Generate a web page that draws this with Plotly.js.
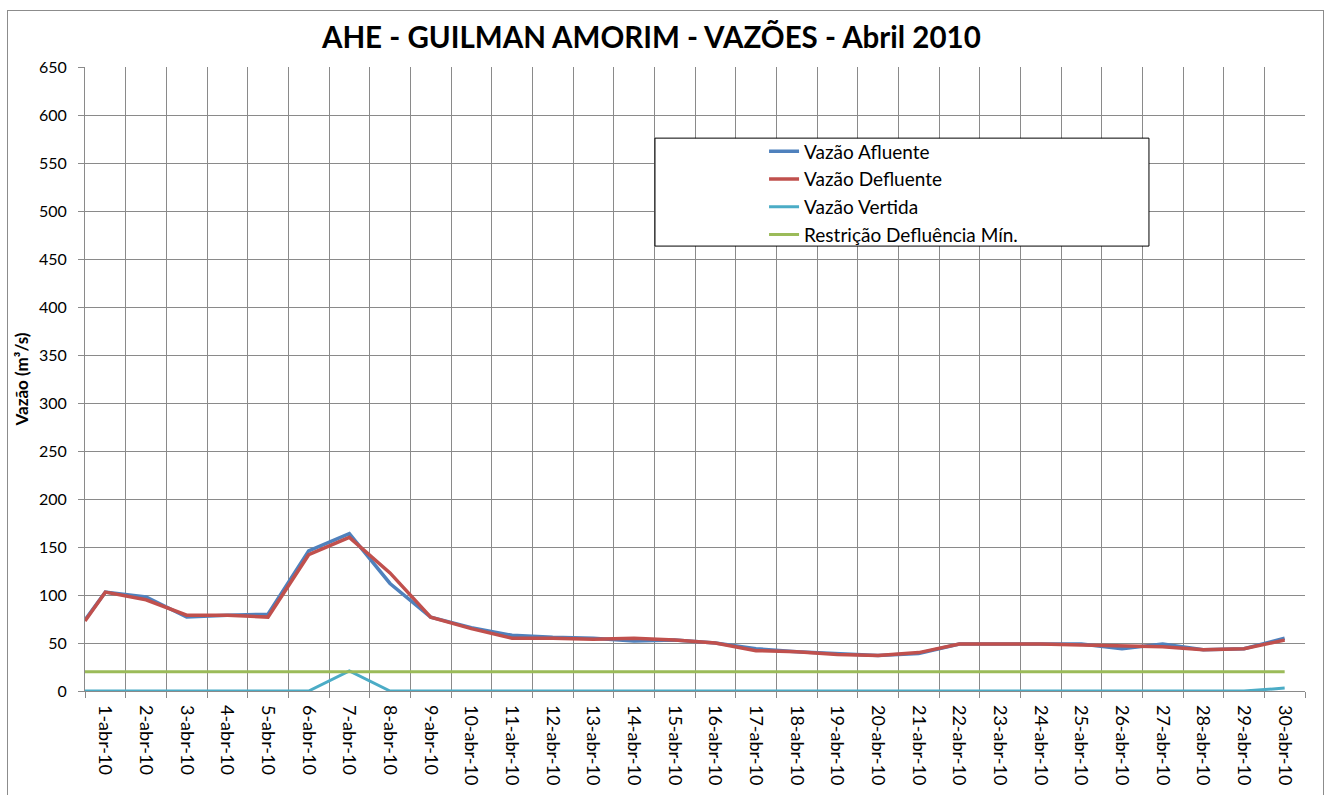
<!DOCTYPE html>
<html>
<head>
<meta charset="utf-8">
<script src="https://cdn.plot.ly/plotly-3.0.1.min.js"></script>
<style>
html,body{margin:0;padding:0;background:#fff;}
#wrap{position:relative;width:1332px;height:795px;}
#chart{position:absolute;left:0;top:0;width:1332px;height:795px;}
#frame{position:absolute;left:7px;top:10px;width:1315px;height:800px;border:1px solid #8c8c8c;pointer-events:none;}
</style>
</head>
<body>
<div id="wrap"><div id="chart"></div><div id="frame"></div></div>
<script>
// Category labels (days of April 2010)
const dayLabels = ["1-abr-10","2-abr-10","3-abr-10","4-abr-10","5-abr-10","6-abr-10","7-abr-10","8-abr-10","9-abr-10","10-abr-10",
  "11-abr-10","12-abr-10","13-abr-10","14-abr-10","15-abr-10","16-abr-10","17-abr-10","18-abr-10","19-abr-10","20-abr-10",
  "21-abr-10","22-abr-10","23-abr-10","24-abr-10","25-abr-10","26-abr-10","27-abr-10","28-abr-10","29-abr-10","30-abr-10"];
// Day positions; the series begin at the left edge of the first day (0.5)
const dayNumbers = [1,2,3,4,5,6,7,8,9,10,11,12,13,14,15,16,17,18,19,20,21,22,23,24,25,26,27,28,29,30];
const startX = 0.5;

const vazaoAfluente   = [74, 103, 98, 77, 79, 80, 146, 164, 112, 77, 66, 58, 56, 55, 52, 53, 50, 44, 41, 39, 37, 39, 49, 49, 49, 49, 44, 49, 43, 44, 55];
const vazaoDefluente  = [73, 103, 95, 79, 79, 77, 142, 160, 123, 77, 65, 55, 55, 54, 55, 53, 50, 42, 41, 38, 37, 40, 49, 49, 49, 48, 47, 46, 43, 44, 53];
const vazaoVertida    = [0, 0, 0, 0, 0, 0, 0, 21, 0, 0, 0, 0, 0, 0, 0, 0, 0, 0, 0, 0, 0, 0, 0, 0, 0, 0, 0, 0, 0, 0, 3];
const restricaoMin    = [20, 20, 20, 20, 20, 20, 20, 20, 20, 20, 20, 20, 20, 20, 20, 20, 20, 20, 20, 20, 20, 20, 20, 20, 20, 20, 20, 20, 20, 20, 20];

const yTickVals = [0,50,100,150,200,250,300,350,400,450,500,550,600,650];

const xs = [startX].concat(dayNumbers);
const boundaries = [startX].concat(dayNumbers.map(d => d + 0.5));

const FONT = "Lato, 'Open Sans', sans-serif";

function tr(name, y, color, width) {
  return {type:'scatter', mode:'lines', name:name, x:xs, y:y,
    line:{color:color, width:width}, xaxis:'x', yaxis:'y'};
}

const traces = [
  tr('Vazão Afluente', vazaoAfluente, '#4F81BD', 3.5),
  tr('Vazão Defluente', vazaoDefluente, '#C0504D', 3.5),
  tr('Vazão Vertida', vazaoVertida, '#4BACC6', 3),
  tr('Restrição Defluência Mín.', restricaoMin, '#9BBB59', 3),
  // invisible helper trace for the tick label axis
  {type:'scatter', mode:'none', x:dayNumbers, y:dayNumbers.map(()=>0), xaxis:'x2', yaxis:'y',
   showlegend:false, hoverinfo:'skip'}
];

const layout = {
  width:1332, height:795,
  margin:{l:85, r:27, t:67, b:104},
  paper_bgcolor:'rgba(0,0,0,0)', plot_bgcolor:'#fff',
  font:{family:FONT, color:'#000'},
  title:{text:'<b>AHE - GUILMAN AMORIM - VAZÕES - Abril 2010</b>', font:{size:29.5, family:FONT, color:'#000'},
    x:0.489, xanchor:'center', y:0.953, yanchor:'middle'},
  showlegend:true,
  legend:{x:0.5566, xanchor:'left', y:0.895, yanchor:'top', bgcolor:'rgba(0,0,0,0)', borderwidth:0,
    font:{size:19, family:FONT, color:'#000'}, itemwidth:30, traceorder:'normal'},
  xaxis:{range:[0.5,30.5], tickmode:'array', tickvals:boundaries, showticklabels:false,
    showgrid:true, gridcolor:'#8a8a8a', gridwidth:1, zeroline:false,
    showline:true, linecolor:'#8a8a8a', linewidth:1, ticks:'outside', ticklen:6, tickcolor:'#8a8a8a'},
  xaxis2:{overlaying:'x', matches:'x', range:[0.5,30.5], tickmode:'array', tickvals:dayNumbers, ticktext:dayLabels,
    tickangle:90, showgrid:false, zeroline:false, showline:false, ticks:'', side:'bottom',
    ticklabelstandoff:13, tickfont:{size:18, family:FONT, color:'#000'}},
  yaxis:{range:[0,650], tickmode:'array', tickvals:yTickVals, showgrid:true, gridcolor:'#8a8a8a', gridwidth:1,
    zeroline:false, showline:true, linecolor:'#8a8a8a', linewidth:1, ticks:'outside', ticklen:6, tickcolor:'#8a8a8a',
    ticklabelstandoff:8, tickfont:{size:16, family:FONT, color:'#000'},
    title:{text:'<b>Vazão (m³/s)</b>', font:{size:17, family:FONT, color:'#000'}, standoff:6}},
  shapes:[{type:'rect', xref:'paper', yref:'paper', x0:0.4672, x1:0.8721, y0:0.713, y1:0.886,
    fillcolor:'#fff', line:{color:'#000', width:1}, layer:'above'}]
};

Plotly.newPlot('chart', traces, layout, {displayModeBar:false, staticPlot:true});
</script>
</body>
</html>
